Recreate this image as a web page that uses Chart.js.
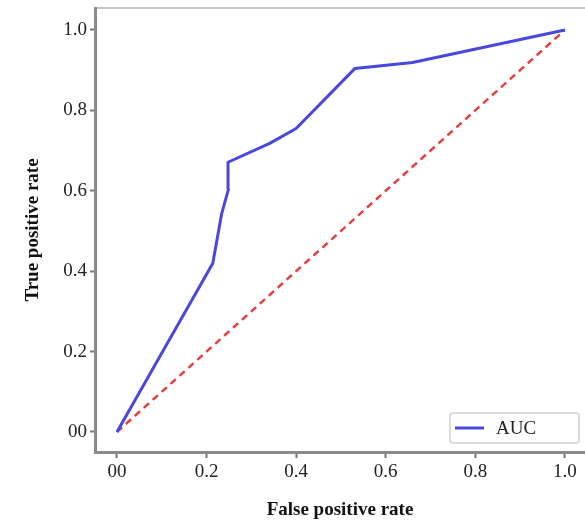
<!DOCTYPE html>
<html>

<head>
    <title>ROC Curve</title>
    <style>
        body {
            margin: 0;
            background: #fff;
        }
    </style>
</head>

<body>
    <canvas id="roc-chart" width="585" height="527"></canvas>

    <script src="https://cdn.jsdelivr.net/npm/chart.js"></script>

    <script>
        // ROC points
        const fprValues = [0, 0.214, 0.234, 0.249, 0.248, 0.341, 0.40, 0.531, 0.66, 1.0];
        const tprValues = [0, 0.42, 0.544, 0.604, 0.671, 0.718, 0.755, 0.904, 0.919, 1.0];
        const chanceX = [0, 1];
        const chanceY = [0, 1];
        const tickValues = [0, 0.2, 0.4, 0.6, 0.8, 1.0];
        const tickLabels = ['00', '0.2', '0.4', '0.6', '0.8', '1.0'];

        const serif = "'Liberation Serif', 'Times New Roman', serif";

        function toPoints(xs, ys) {
            return xs.map((x, i) => ({ x: x, y: ys[i] }));
        }

        function setTicks(scale) {
            scale.ticks = tickValues.map((v) => ({ value: v }));
        }

        function tickText(value) {
            const i = tickValues.findIndex((v) => Math.abs(v - value) < 1e-6);
            return i >= 0 ? tickLabels[i] : '';
        }

        // legend box drawn inside the plot, bottom right
        const insideLegend = {
            id: 'insideLegend',
            afterDraw(chart) {
                const ctx = chart.ctx;
                const ds = chart.data.datasets[0];
                ctx.save();
                ctx.fillStyle = '#fff';
                ctx.strokeStyle = '#dcdcdc';
                ctx.lineWidth = 2;
                ctx.beginPath();
                ctx.roundRect(450, 413, 129, 30, 3);
                ctx.fill();
                ctx.stroke();
                ctx.strokeStyle = ds.borderColor;
                ctx.lineWidth = 3;
                ctx.beginPath();
                ctx.moveTo(455, 428);
                ctx.lineTo(484, 428);
                ctx.stroke();
                ctx.fillStyle = '#222';
                ctx.font = '19px ' + serif;
                ctx.textBaseline = 'middle';
                ctx.fillText(ds.label, 496, 429);
                ctx.restore();
            }
        };

        const ctx = document.getElementById('roc-chart').getContext('2d');
        new Chart(ctx, {
            type: 'line',
            data: {
                datasets: [
                    {
                        label: 'AUC',
                        data: toPoints(fprValues, tprValues),
                        borderColor: '#4848dc',
                        borderWidth: 3,
                        borderJoinStyle: 'round',
                        pointRadius: 0,
                        tension: 0,
                        fill: false,
                    },
                    {
                        label: 'Chance',
                        data: toPoints(chanceX, chanceY),
                        borderColor: '#e2413e',
                        borderWidth: 2.5,
                        borderDash: [7, 5],
                        pointRadius: 0,
                        fill: false,
                    },
                ],
            },
            options: {
                responsive: false,
                animation: false,
                layout: { padding: 0 },
                scales: {
                    x: {
                        type: 'linear',
                        position: 'bottom',
                        min: -0.049,
                        max: 1.045,
                        afterBuildTicks: setTicks,
                        afterFit: (scale) => { scale.height = 75; },
                        grid: { drawOnChartArea: false, tickLength: 6, tickWidth: 2, tickColor: '#777' },
                        border: { color: '#8a8a8a', width: 3 },
                        ticks: {
                            callback: tickText,
                            color: '#222',
                            padding: 3,
                            maxRotation: 0,
                            font: { family: serif, size: 19 },
                        },
                        title: {
                            display: true,
                            text: 'False positive rate',
                            color: '#111',
                            padding: { top: 6, bottom: 6 },
                            font: { family: serif, size: 19, weight: 'bold' },
                        },
                    },
                    xTop: {
                        type: 'linear',
                        position: 'top',
                        min: 0,
                        max: 1,
                        afterFit: (scale) => { scale.height = 8; },
                        grid: { display: false },
                        ticks: { display: false },
                        border: { color: '#c4c4c4', width: 2 },
                    },
                    y: {
                        type: 'linear',
                        min: -0.0498,
                        max: 1.0547,
                        afterBuildTicks: setTicks,
                        afterFit: (scale) => {
                            scale.width = 95;
                            scale.paddingTop = 0;
                            scale.paddingBottom = 0;
                        },
                        grid: { drawOnChartArea: false, tickLength: 5, tickWidth: 2, tickColor: '#777' },
                        border: { color: '#8a8a8a', width: 3 },
                        ticks: {
                            callback: tickText,
                            color: '#222',
                            padding: 3,
                            font: { family: serif, size: 19 },
                        },
                        title: {
                            display: true,
                            text: 'True positive rate',
                            color: '#111',
                            padding: { top: 22, bottom: 22 },
                            font: { family: serif, size: 19, weight: 'bold' },
                        },
                    },
                },
                plugins: {
                    legend: { display: false },
                    tooltip: { enabled: false },
                },
            },
            plugins: [insideLegend],
        });
    </script>
</body>

</html>
